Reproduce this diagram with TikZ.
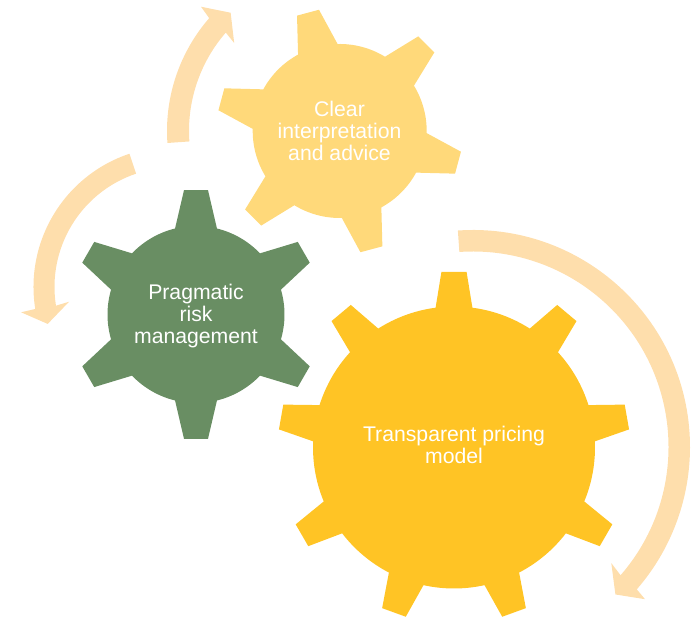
\documentclass[tikz,border=0pt]{standalone}
\usepackage{fontspec}
\setmainfont{Liberation Sans}
\definecolor{goldgear}{HTML}{FFC425}
\definecolor{palegear}{HTML}{FFD97A}
\definecolor{greengear}{HTML}{698E63}
\definecolor{flowcolor}{HTML}{FEDEAC}
\tikzset{
    gearlabel/.style={
           align=center,
           text=white,
           inner sep=0pt,
           font=\fontsize{21.2}{22}\selectfont,
           },
    flow/.style={
           fill=flowcolor,
           },
}
% colour, centre x, centre y, body radius, tip radius, teeth, first angle, base half angle, tip half angle
\newcommand{\gearshape}[9]{
	\fill[#1,shift={(#2,#3)}] (#7-#8:#4)
		\foreach \k [evaluate=\k as \a using #7+(\k-1)*360/#6] in {1,...,#6} {
			-- (\a-#8:#4) -- (\a-#9:#5) -- (\a+#9:#5) -- (\a+#8:#4)
			arc[start angle={\a+#8},end angle={\a+360/#6-#8},radius=#4]
		} -- cycle;
}
\begin{document}
\begin{tikzpicture}[x=1pt,y=1pt]
	\useasboundingbox (0,0) rectangle (698,617);

	\gearshape{palegear}{339.7}{486}{87}{123}{6}{105}{13.6}{5.3}
	\gearshape{greengear}{196}{302.5}{88.5}{125}{6}{90}{13.7}{5.5}
	\gearshape{goldgear}{454}{169.5}{141}{176}{9}{90}{7.5}{4.1}

	\node[gearlabel] (clear) at (339.5,486) {Clear\\interpretation\\and advice};
	\node[gearlabel] (pragmatic) at (196,301) {Pragmatic\\risk\\management};
	\node[gearlabel] (transparent) at (454,172) {Transparent pricing\\model};

	\begin{scope}[shift={(339,486)}]
		\fill[flow] (184:172) arc[start angle=184,end angle=139,radius=172]
			-- (138:185.7) -- (132.5:160.4) -- (140:136.8) -- (139:150)
			arc[start angle=139,end angle=184,radius=150] -- cycle;
	\end{scope}
	\begin{scope}[shift={(174,330)}]
		\fill[flow] (108.5:140.5) arc[start angle=108.5,end angle=189,radius=140.5]
			-- (189.4:155) -- (196.3:131.6) -- (188:106) -- (189:119.5)
			arc[start angle=189,end angle=108.5,radius=119.5] -- cycle;
	\end{scope}
	\begin{scope}[shift={(473,170)}]
		\fill[flow] (94:217) arc[start angle=94,end angle=-41,radius=217]
			-- (-41.5:229.7) -- (-46:205) -- (-40:180.5) -- (-41:195.5)
			arc[start angle=-41,end angle=94,radius=195.5] -- cycle;
	\end{scope}
\end{tikzpicture}
\end{document}
